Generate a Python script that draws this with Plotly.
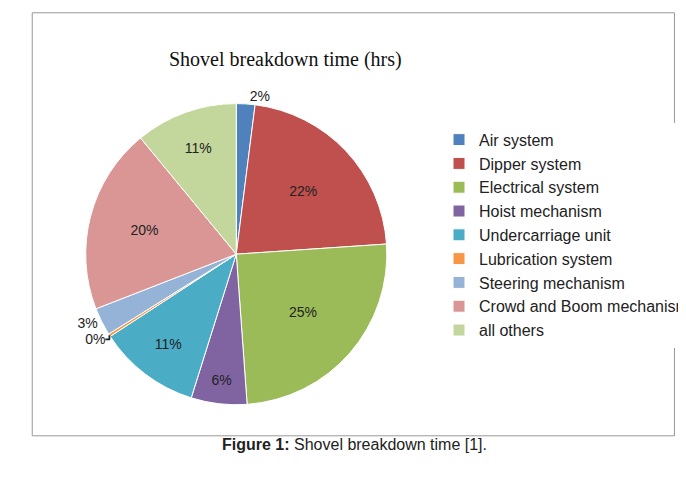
import plotly.graph_objects as go

categories = ["Air system", "Dipper system", "Electrical system", "Hoist mechanism",
              "Undercarriage unit", "Lubrication system", "Steering mechanism",
              "Crowd and Boom mechanism", "all others"]
values = [2, 22, 25, 6, 11, 0.3, 3, 20, 11]
labels_txt = ["2%", "22%", "25%", "6%", "11%", "0%", "3%", "20%", "11%"]
colors = ["#4F81BD", "#C0504D", "#9BBB59", "#8064A2", "#4BACC6",
          "#F79646", "#95B3D7", "#D99694", "#C3D69B"]
positions = ["outside", "inside", "inside", "inside", "inside",
             "outside", "outside", "inside", "inside"]

fig = go.Figure(go.Pie(
    labels=categories, values=values, text=labels_txt, texttemplate="%{text}",
    textposition=positions, sort=False, direction="clockwise", rotation=0,
    marker=dict(colors=colors, line=dict(color="white", width=1)),
    textfont=dict(family="Liberation Sans", size=14, color="#222"),
    insidetextorientation="horizontal",
    domain=dict(x=[0.04, 0.6], y=[0.17, 0.8]),
))
fig.update_layout(
    width=686, height=478, paper_bgcolor="white",
    margin=dict(l=0, r=0, t=0, b=0),
    font=dict(family="Liberation Sans", color="#222"),
    legend=dict(x=0.63, y=0.76, yanchor="top", xanchor="left",
                font=dict(size=16), tracegroupgap=0, itemwidth=30,
                traceorder="normal"),
    shapes=[dict(type="rect", xref="paper", yref="paper", x0=0.008, x1=0.99,
                 y0=0.105, y1=0.99, line=dict(color="#999", width=1))],
    annotations=[
        dict(text="Shovel breakdown time (hrs)", x=0.395, y=0.92, xref="paper",
             yref="paper", showarrow=False,
             font=dict(family="Liberation Serif", size=20, color="#111")),
        dict(text="<b>Figure 1:</b> Shovel breakdown time [1].", x=0.5, y=0.065,
             xref="paper", yref="paper", showarrow=False,
             font=dict(family="Liberation Sans", size=16, color="#222")),
    ],
)
fig.write_html("out.html")
